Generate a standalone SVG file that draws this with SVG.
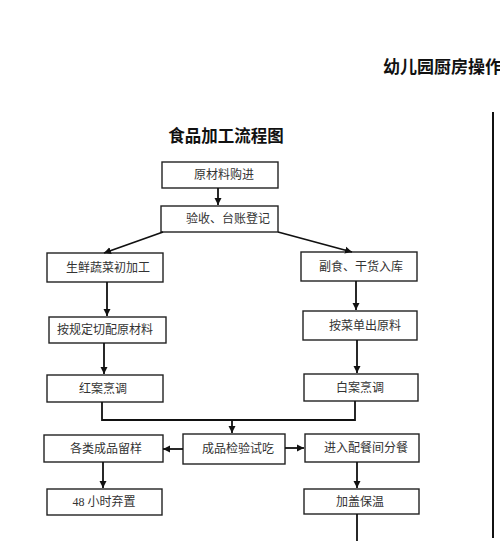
<svg xmlns="http://www.w3.org/2000/svg" width="500" height="541" viewBox="0 0 500 541">
<defs>
<marker id="ah" markerWidth="8" markerHeight="8" refX="7" refY="4" orient="auto" markerUnits="userSpaceOnUse">
<path d="M0,0.5 L7,4 L0,7.5 Z" fill="#111"/>
</marker>
<style>
.box{fill:#fff;stroke:#222;stroke-width:1.4}
.lbl{font-family:"Liberation Serif","Noto Sans CJK SC",serif;font-size:12px;fill:#333;text-anchor:middle}
.ttl{font-family:"Noto Sans CJK SC",sans-serif;font-weight:bold;fill:#111}
.ln{stroke:#111;stroke-width:1.8;fill:none}
.ar{stroke:#111;stroke-width:1.8;fill:none;marker-end:url(#ah)}
</style>
</defs>
<rect width="500" height="541" fill="#fff"/>
<text class="ttl" x="383" y="73" font-size="17">幼儿园厨房操作</text>
<text class="ttl" x="226" y="142" font-size="16.5" text-anchor="middle">食品加工流程图</text>
<line x1="493" y1="112" x2="493" y2="538" stroke="#111" stroke-width="2"/>

<g id="n1"><rect class="box" x="162" y="162" width="116" height="26"/><text class="lbl" x="224" y="179">原材料购进</text></g>
<g id="n2"><rect class="box" x="161" y="206" width="117" height="26"/><text class="lbl" x="228" y="223">验收、台账登记</text></g>
<g id="n3"><rect class="box" x="47" y="253" width="116" height="29"/><text class="lbl" x="108" y="272">生鲜蔬菜初加工</text></g>
<g id="n4"><rect class="box" x="301" y="252" width="116" height="29"/><text class="lbl" x="361" y="271">副食、干货入库</text></g>
<g id="n5"><rect class="box" x="49" y="317" width="117" height="26"/><text class="lbl" x="105" y="334">按规定切配原材料</text></g>
<g id="n6"><rect class="box" x="303" y="311" width="114" height="29"/><text class="lbl" x="365" y="330">按菜单出原料</text></g>
<g id="n7"><rect class="box" x="47" y="375" width="116" height="27"/><text class="lbl" x="103" y="393">红案烹调</text></g>
<g id="n8"><rect class="box" x="304" y="374" width="114" height="27"/><text class="lbl" x="360" y="392">白案烹调</text></g>
<g id="n9"><rect class="box" x="183" y="434" width="102" height="30"/><text class="lbl" x="238" y="453">成品检验试吃</text></g>
<g id="n10"><rect class="box" x="44" y="435" width="119" height="27"/><text class="lbl" x="106" y="453">各类成品留样</text></g>
<g id="n11"><rect class="box" x="305" y="434" width="114" height="28"/><text class="lbl" x="366" y="452">进入配餐间分餐</text></g>
<g id="n12"><rect class="box" x="47" y="489" width="115" height="26"/><text class="lbl" x="104" y="506">48 小时弃置</text></g>
<g id="n13"><rect class="box" x="304" y="489" width="115" height="25"/><text class="lbl" x="360" y="506">加盖保温</text></g>

<g id="connectors">
<line class="ar" x1="218" y1="188" x2="218" y2="205"/>
<line class="ar" x1="163" y1="232" x2="104" y2="253"/>
<line class="ar" x1="278" y1="232" x2="352" y2="252"/>
<line class="ar" x1="107" y1="282" x2="107" y2="316"/>
<line class="ar" x1="356" y1="281" x2="356" y2="310"/>
<line class="ar" x1="104" y1="343" x2="104" y2="374"/>
<line class="ar" x1="357" y1="340" x2="357" y2="373"/>
<polyline class="ln" points="102,402 102,420 355,420 355,401"/>
<line class="ar" x1="232" y1="420" x2="232" y2="433"/>
<line class="ar" x1="183" y1="449" x2="163" y2="449"/>
<line class="ar" x1="285" y1="448" x2="304" y2="448"/>
<line class="ar" x1="103" y1="462" x2="103" y2="488"/>
<line class="ar" x1="357" y1="462" x2="357" y2="488"/>
<line class="ln" x1="357" y1="514" x2="357" y2="541"/>
</g>
</svg>
